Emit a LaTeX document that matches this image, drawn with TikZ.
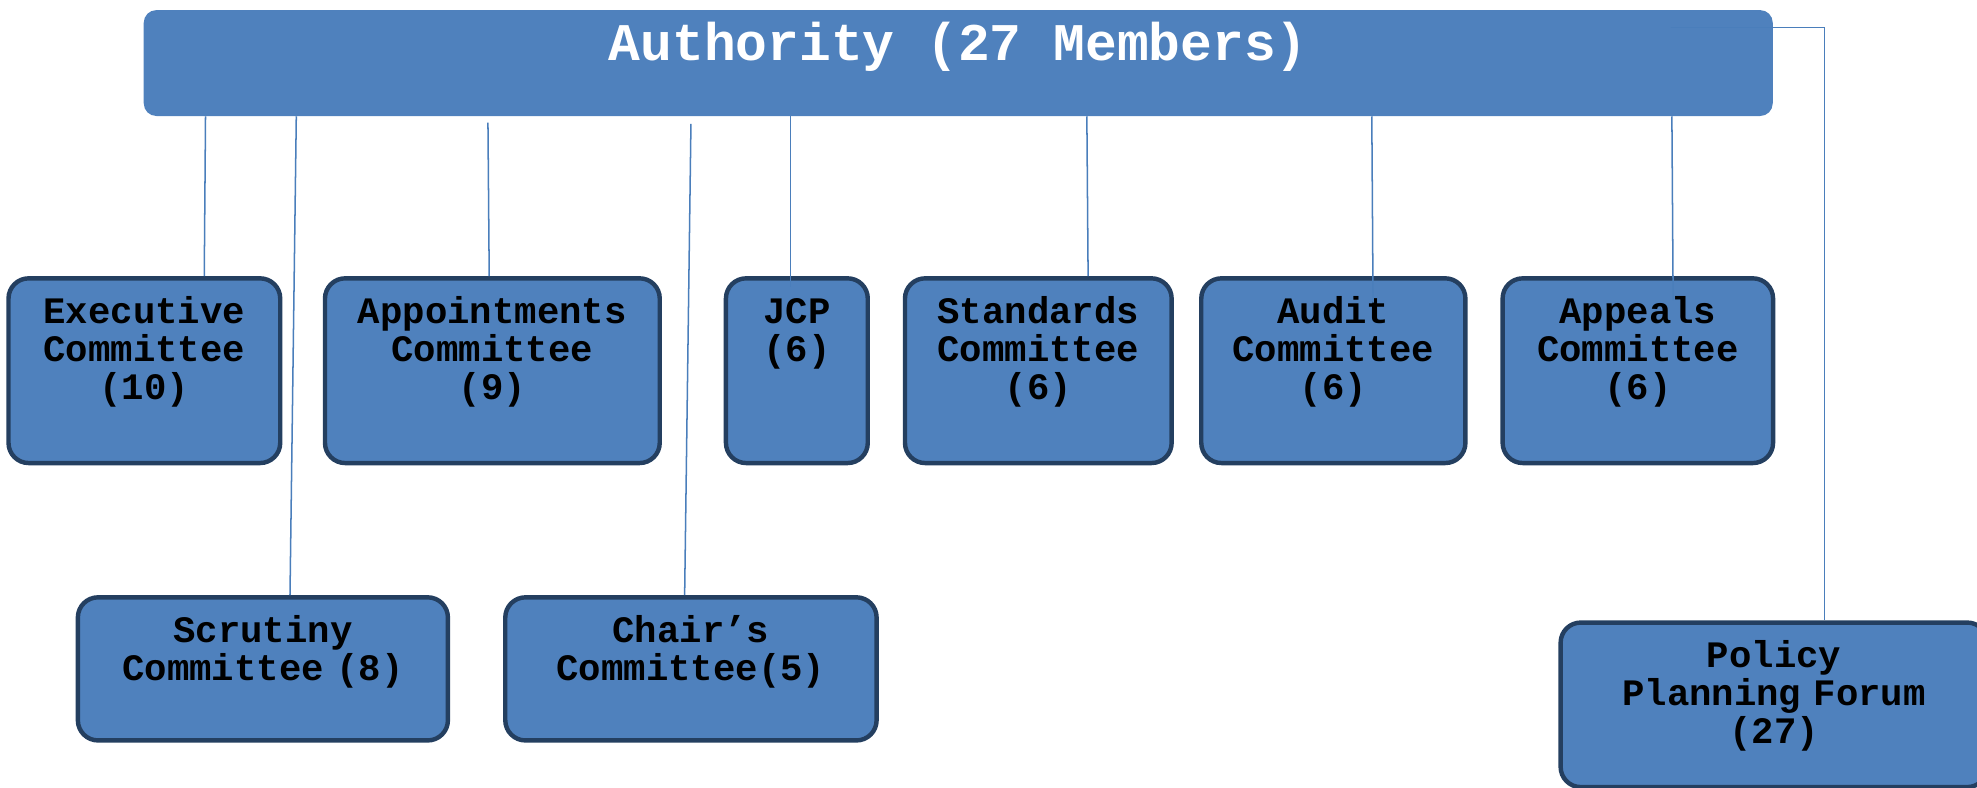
\documentclass[tikz,border=0pt]{standalone}
\usepackage{fontspec}
\setmonofont{Liberation Mono}
\usetikzlibrary{positioning}
\definecolor{boxblue}{HTML}{4F81BD}
\definecolor{boxedge}{HTML}{243F60}
\definecolor{linkblue}{HTML}{4A7EBB}

\begin{document}
\begin{tikzpicture}[
        x=1pt, y=-1pt,
        every node/.style={font=\ttfamily\bfseries},
        head/.style={fill=boxblue, rounded corners=10pt, inner sep=0pt, minimum width=1292pt, minimum height=84pt, text height=40pt, text depth=44pt, text=white, font=\ttfamily\bfseries\fontsize{42}{42}\selectfont},
        box/.style={draw=boxedge, fill=boxblue, line width=3.5pt, rounded corners=16pt, inner sep=0pt, align=center, text width=#1, minimum width=#1, minimum height=146.5pt, text height=36pt, text depth=110.5pt, font=\ttfamily\bfseries\fontsize{29.6}{30}\selectfont},
        lowbox/.style={box=#1, minimum height=113.5pt, text depth=77.5pt},
        link/.style={draw=linkblue, line width=1.2pt}
    ]

    \useasboundingbox (0,0) rectangle (1568,624.2);

    \node[head] (auth) at (760,50) {Authority (27 Members)};

    \node[box=215.5pt, anchor=north west] (exec) at (5,219) {Executive\\Committee\\(10)};
    \node[box=265.5pt, right=32pt of exec] (appoint) {Appointments\\Committee\\(9)};
    \node[box=112.5pt, right=49pt of appoint] (jcp) {JCP\\(6)};
    \node[box=211.5pt, right=26pt of jcp] (standards) {Standards\\Committee\\(6)};
    \node[box=209.5pt, right=20pt of standards] (audit) {Audit\\Committee\\(6)};
    \node[box=214.5pt, right=26pt of audit] (appeals) {Appeals\\Committee\\(6)};

    \node[lowbox=293.5pt, anchor=north west] (scrutiny) at (60,472) {Scrutiny\\Committee (8)};
    \node[lowbox=294.5pt, right=42pt of scrutiny] (chair) {Chair’s\\Committee(5)};
    \node[box=338.5pt, minimum height=130.5pt, text depth=94.5pt, anchor=north west] (policy) at (1236,492) {Policy\\Planning Forum\\(27)};

    \draw[link] ([xshift=48.5pt]exec.north |- auth.south) -- ([xshift=47.5pt]exec.north);
    \draw[link] ([xshift=26.5pt]scrutiny.north |- auth.south) -- ([xshift=21.5pt]scrutiny.north);
    \draw[link] ([xshift=-3.5pt,yshift=-5pt]appoint.north |- auth.south) -- ([xshift=-2.5pt]appoint.north);
    \draw[link] ([yshift=-6pt]chair.north |- auth.south) -- ([xshift=-5pt]chair.north);
    \draw[link] ([xshift=-5pt]jcp.north |- auth.south) -- ([xshift=-5pt,yshift=-9pt]jcp.north);
    \draw[link] ([xshift=38.5pt]standards.north |- auth.south) -- ([xshift=39.5pt]standards.north);
    \draw[link] ([xshift=30.5pt]audit.north |- auth.south) -- ([xshift=31.5pt,yshift=-21pt]audit.north);
    \draw[link] ([xshift=27pt]appeals.north |- auth.south) -- ([xshift=28pt,yshift=-19pt]appeals.north);
    \draw[link] ([xshift=-81pt,yshift=-14pt]auth.north east) -| ([xshift=40pt]policy.north);

\end{tikzpicture}
\end{document}
